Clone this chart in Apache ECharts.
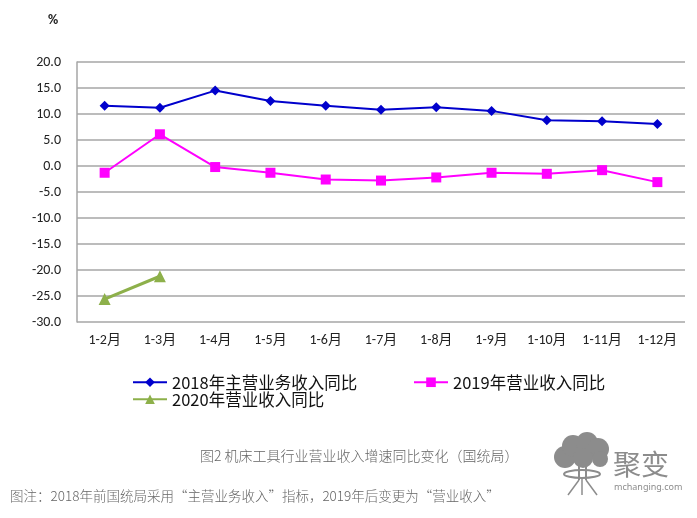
<!DOCTYPE html>
<html><head><meta charset="utf-8">
<script src="https://cdn.jsdelivr.net/npm/echarts@6/dist/echarts.min.js"></script>
<style>html,body{margin:0;padding:0;background:#fff;}#c{width:697px;height:518px;}</style>
</head><body><div id="c"></div>
<script>
var categories = ['1-2月','1-3月','1-4月','1-5月','1-6月','1-7月','1-8月','1-9月','1-10月','1-11月','1-12月'];
var s2018 = [11.6, 11.2, 14.5, 12.5, 11.6, 10.8, 11.3, 10.6, 8.8, 8.6, 8.1];
var s2019 = [-1.3, 6.1, -0.2, -1.3, -2.6, -2.8, -2.2, -1.3, -1.5, -0.8, -3.1];
var s2020 = [-25.6, -21.2];
var names = ['2018年主营业务收入同比','2019年营业收入同比','2020年营业收入同比'];
var yTicks = {min:-30, max:20, interval:5};
var caption = '图2 机床工具行业营业收入增速同比变化（国统局）';
var note = '图注：2018年前国统局采用“主营业务收入”指标，2019年后变更为“营业收入”';

var chart = echarts.init(document.getElementById('c'));
var font = 'Calibri, Carlito, "Noto Sans CJK SC", sans-serif';
var legendText = {fontSize:16.5, color:'#111', fontFamily:'"Noto Sans CJK SC", sans-serif'};
var gray = '#8c8c8c';
chart.setOption({
  animation:false,
  backgroundColor:'#fff',
  grid:{left:77, right:12, top:62, bottom:196},
  xAxis:{type:'category', data:categories, boundaryGap:true,
    axisLine:{show:false}, axisTick:{show:false},
    axisLabel:{fontSize:14, color:'#222', margin:12, fontFamily:font}},
  yAxis:{type:'value', min:yTicks.min, max:yTicks.max, interval:yTicks.interval,
    axisLine:{show:true, lineStyle:{color:'#a6a6a6', width:1.5}}, axisTick:{show:false},
    splitLine:{lineStyle:{color:'#a6a6a6', width:1.5}},
    axisLabel:{fontSize:14, color:'#222', margin:16, fontFamily:font, formatter:function(v){return v.toFixed(1);}}},
  legend:[
    {data:[names[0]], left:127, top:369, itemWidth:34, itemHeight:12, itemGap:4, textStyle:legendText},
    {data:[names[1]], left:408, top:369, itemWidth:34, itemHeight:12, itemGap:4, textStyle:legendText},
    {data:[names[2]], left:127, top:386, itemWidth:34, itemHeight:12, itemGap:4, textStyle:legendText}
  ],
  series:[
    {name:names[0], type:'line', data:s2018, symbol:'diamond', symbolSize:10,
      lineStyle:{color:'#0000cc', width:2}, itemStyle:{color:'#0000cc'}},
    {name:names[1], type:'line', data:s2019, symbol:'rect', symbolSize:10,
      lineStyle:{color:'#ff00ff', width:2}, itemStyle:{color:'#ff00ff'}},
    {name:names[2], type:'line', data:s2020, symbol:'triangle', symbolSize:12,
      lineStyle:{color:'#8db04a', width:3}, itemStyle:{color:'#8db04a'}}
  ],
  graphic:[
    {type:'text', left:48, top:14, style:{text:'%', fontSize:14, fontWeight:'bold', fill:'#222', fontFamily:font}},
    {type:'text', left:200, top:449, style:{text:caption, fontSize:14, fill:'#666', fontFamily:'"Noto Sans CJK SC", serif', fontWeight:300}},
    {type:'text', left:10, top:489, style:{text:note, fontSize:13.5, fill:'#666', fontFamily:'"Noto Sans CJK SC", serif', fontWeight:300}},
    {type:'group', children:[
      {type:'circle', shape:{cx:565, cy:457, r:11}, style:{fill:gray}},
      {type:'circle', shape:{cx:573, cy:446, r:11}, style:{fill:gray}},
      {type:'circle', shape:{cx:587, cy:443, r:11}, style:{fill:gray}},
      {type:'circle', shape:{cx:598, cy:449, r:11}, style:{fill:gray}},
      {type:'circle', shape:{cx:600, cy:459, r:8}, style:{fill:gray}},
      {type:'circle', shape:{cx:583, cy:458, r:10}, style:{fill:gray}},
      {type:'line', shape:{x1:579, y1:464, x2:579, y2:480}, style:{stroke:gray, lineWidth:2}},
      {type:'line', shape:{x1:586, y1:464, x2:586, y2:480}, style:{stroke:gray, lineWidth:2}},
      {type:'ellipse', shape:{cx:582, cy:474, rx:18, ry:4}, style:{fill:'none', stroke:gray, lineWidth:2}},
      {type:'line', shape:{x1:579, y1:480, x2:568, y2:495}, style:{stroke:gray, lineWidth:1.5}},
      {type:'line', shape:{x1:586, y1:480, x2:597, y2:495}, style:{stroke:gray, lineWidth:1.5}},
      {type:'line', shape:{x1:582, y1:478, x2:582, y2:495}, style:{stroke:gray, lineWidth:1.5}}
    ]},
    {type:'text', left:613, top:450, style:{text:'聚变', fontSize:28, fill:gray, fontFamily:'"Noto Sans CJK SC", sans-serif'}},
    {type:'text', left:614, top:483, style:{text:'mchanging.com', fontSize:9, fill:gray, fontFamily:'"Noto Sans", sans-serif'}}
  ]
});
</script></body></html>
